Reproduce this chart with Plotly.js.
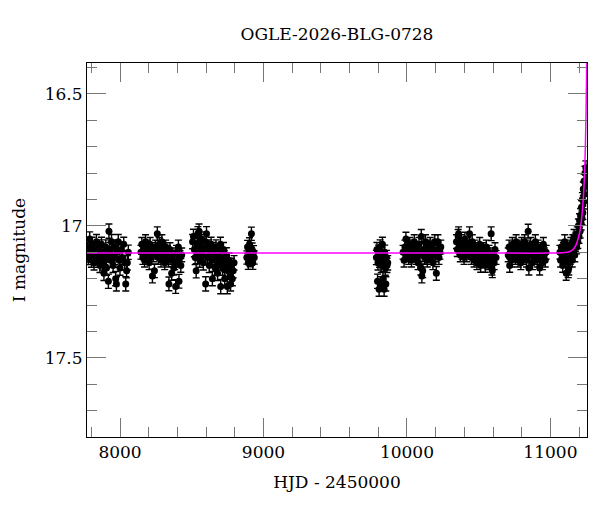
<!DOCTYPE html>
<html>
<head>
<meta charset="utf-8">
<script src="https://cdn.plot.ly/plotly-3.0.1.min.js"></script>
<style>html,body{margin:0;padding:0;background:#fff;}#chart{width:600px;height:512px;}</style>
</head>
<body>
<div id="chart"></div>
<script>
// ---- Observing seasons: HJD - 2450000 and I magnitude ----
const t1 = [7774,7779,7785,7789,7794,7801,7806,7812,7819,7823,7830,7836,7841,7849,7853,7860,7866,7871,7879,7884,7888,7895,7901,7906,7912,7919,7923,7929,7934,7941,7946,7952,7958,7963,7970,7975,7981,7988,7994,8000,8009,8017,8026,8033,8040,8046,8051,8058];
const m1 = [17.09,17.12,17.08,17.05,17.11,17.13,17.07,17.10,17.14,17.09,17.12,17.06,17.10,17.13,17.08,17.15,17.11,17.07,17.14,17.10,17.18,17.12,17.08,17.16,17.11,17.21,17.02,17.09,17.13,17.06,17.11,17.15,17.08,17.12,17.20,17.22,17.10,17.06,17.13,17.16,17.09,17.12,17.07,17.14,17.22,17.17,17.14,17.10];

const t2 = [8146,8152,8159,8165,8171,8178,8184,8190,8197,8203,8210,8216,8222,8226,8233,8240,8247,8253,8260,8266,8273,8279,8286,8292,8299,8305,8312,8318,8325,8331,8337,8341,8348,8354,8360,8367,8375,8381,8388,8394,8401,8407,8411,8418,8424,8430];
const m2 = [17.10,17.07,17.12,17.09,17.13,17.06,17.11,17.08,17.10,17.14,17.07,17.12,17.09,17.19,17.11,17.17,17.08,17.10,17.03,17.12,17.07,17.10,17.13,17.06,17.11,17.09,17.14,17.08,17.12,17.10,17.13,17.22,17.09,17.12,17.18,17.11,17.16,17.14,17.23,17.10,17.13,17.08,17.21,17.12,17.15,17.11];

const t3 = [8506,8512,8518,8524,8531,8537,8543,8549,8551,8556,8562,8568,8575,8581,8587,8593,8597,8603,8609,8616,8622,8628,8635,8641,8644,8650,8657,8663,8669,8676,8680,8687,8693,8700,8702,8708,8715,8721,8727,8730,8737,8742,8748,8754,8760,8766,8771,8777,8783,8789,8795];
const m3 = [17.06,17.04,17.09,17.12,17.17,17.07,17.03,17.10,17.02,17.13,17.08,17.05,17.11,17.14,17.09,17.06,17.22,17.03,17.12,17.08,17.15,17.10,17.07,17.13,17.20,17.09,17.12,17.16,17.08,17.11,17.18,17.14,17.10,17.07,17.23,17.13,17.16,17.09,17.12,17.20,17.15,17.11,17.23,17.17,17.13,17.19,17.22,17.15,17.20,17.17,17.14];

const t4 = [8884,8889,8894,8899,8903,8908,8912,8916,8921,8926,8931,8936];
const m4 = [17.12,17.08,17.14,17.10,17.07,17.13,17.11,17.03,17.09,17.14,17.10,17.12];

const t5 = [9787,9791,9795,9798,9802,9806,9809,9813,9817,9821,9825,9829,9833,9837,9841,9845,9849,9853,9857,9861,9866];
const m5 = [17.12,17.09,17.21,17.14,17.10,17.24,17.13,17.08,17.22,17.15,17.11,17.07,17.20,17.13,17.24,17.10,17.16,17.22,17.12,17.15,17.14];

const t6 = [9973,9980,9986,9993,9999,10006,10012,10019,10025,10032,10038,10045,10051,10058,10064,10071,10077,10084,10090,10097,10100,10104,10110,10116,10123,10129,10136,10142,10149,10155,10162,10168,10175,10181,10188,10194,10201,10205,10211,10216,10223,10230,10236];
const m6 = [17.10,17.13,17.08,17.05,17.11,17.09,17.12,17.07,17.10,17.13,17.08,17.11,17.06,17.09,17.12,17.10,17.14,17.07,17.11,17.16,17.04,17.19,17.17,17.09,17.12,17.06,17.10,17.13,17.08,17.11,17.07,17.12,17.09,17.14,17.10,17.06,17.11,17.18,17.09,17.06,17.12,17.10,17.08];

const t7 = [10345,10351,10357,10360,10366,10372,10379,10385,10392,10398,10404,10411,10417,10424,10430,10436,10442,10449,10455,10462,10468,10475,10481,10488,10494,10501,10507,10514,10520,10527,10533,10540,10546,10553,10559,10566,10572,10579,10587,10592,10595,10601,10608,10614,10621];
const m7 = [17.06,17.09,17.04,17.03,17.08,17.11,17.06,17.10,17.07,17.12,17.05,17.09,17.11,17.07,17.10,17.03,17.08,17.12,17.06,17.10,17.13,17.08,17.11,17.14,17.09,17.12,17.07,17.15,17.10,17.13,17.09,17.12,17.15,17.08,17.11,17.14,17.10,17.13,17.03,17.16,17.17,17.11,17.14,17.09,17.12];

const t8 = [10706,10712,10716,10722,10729,10735,10742,10748,10755,10761,10768,10774,10781,10787,10794,10800,10807,10813,10820,10826,10833,10839,10845,10850,10856,10862,10869,10875,10882,10888,10895,10901,10908,10914,10920,10925,10931,10938,10944,10951,10957,10964,10970];
const m8 = [17.11,17.08,17.15,17.10,17.13,17.07,17.11,17.09,17.12,17.06,17.10,17.13,17.08,17.11,17.14,17.07,17.10,17.12,17.06,17.09,17.13,17.08,17.02,17.16,17.11,17.07,17.10,17.14,17.09,17.12,17.06,17.11,17.13,17.08,17.10,17.16,17.12,17.09,17.14,17.07,17.11,17.13,17.10];

const t9 = [11066,11071,11076,11081,11086,11091,11096,11100,11105,11110,11114,11119,11124,11128,11133,11138,11142,11147,11152,11156,11161,11165,11170,11174,11178,11183,11187,11191,11195,11199,11203,11207,11210,11214,11217,11220,11223,11226,11229,11232,11235,11238,11241,11244,11247,11250];
const m9 = [17.10,17.13,17.08,17.11,17.15,17.09,17.12,17.06,17.10,17.18,17.13,17.08,17.17,17.16,17.09,17.12,17.07,17.10,17.13,17.06,17.09,17.04,17.11,17.07,17.05,17.08,17.03,17.06,17.00,17.04,16.98,17.02,16.96,16.99,16.93,16.97,16.90,16.95,16.86,16.91,16.83,16.88,16.80,16.85,16.78,16.83];

// typical photometric error of each season (mag)
const seasonErr = [0.027, 0.026, 0.027, 0.025, 0.027, 0.026, 0.026, 0.026, 0.026];

// microlensing model curve
const modelT = [7770, 9000, 10500, 11000, 11100, 11130, 11150, 11165, 11180, 11192, 11202, 11210, 11218, 11224, 11230, 11235, 11240, 11244, 11248, 11251, 11254, 11257];
const modelM = [17.103, 17.103, 17.103, 17.103, 17.101, 17.098, 17.093, 17.085, 17.070, 17.050, 17.030, 17.005, 16.970, 16.935, 16.890, 16.840, 16.770, 16.690, 16.580, 16.470, 16.330, 16.200];

const titleText = 'OGLE-2026-BLG-0728';
const xTitle = 'HJD - 2450000';
const yTitle = 'I magnitude';

// ---- build traces ----
const tSeasons = [t1, t2, t3, t4, t5, t6, t7, t8, t9];
const mSeasons = [m1, m2, m3, m4, m5, m6, m7, m8, m9];
let X = [], Y = [], E = [];
tSeasons.forEach((ts, i) => {
  X = X.concat(ts);
  Y = Y.concat(mSeasons[i]);
  E = E.concat(ts.map(() => seasonErr[i]));
});

const FONT = 'DejaVu Serif, Liberation Serif, serif';

const dataTrace = {
  type: 'scatter', mode: 'markers', x: X, y: Y,
  marker: {color: '#000', size: 7},
  error_y: {type: 'data', array: E, visible: true, color: '#000', thickness: 1.4, width: 3.5},
  hoverinfo: 'skip', showlegend: false
};
const modelTrace = {
  type: 'scatter', mode: 'lines', x: modelT, y: modelM,
  line: {color: '#ff00ff', width: 1.5, shape: 'spline'},
  hoverinfo: 'skip', showlegend: false
};

const axisCommon = {
  ticks: 'inside', tickcolor: '#777', tickwidth: 1, ticklen: 19,
  showline: true, linecolor: '#000', linewidth: 1, mirror: 'allticks',
  showgrid: false, zeroline: false,
  tickfont: {family: FONT, size: 17, color: '#000'}
};

const layout = {
  width: 600, height: 512,
  margin: {l: 87, r: 13, t: 63, b: 75},
  paper_bgcolor: '#fff', plot_bgcolor: '#fff',
  title: {text: titleText, font: {family: FONT, size: 17, color: '#000'},
          x: 0.5616, xanchor: 'center', y: 1 - 34/512, yanchor: 'middle', yref: 'container'},
  xaxis: Object.assign({}, axisCommon, {
    range: [7770, 11255], tick0: 0, dtick: 1000, tickformat: 'd',
    minor: {ticks: 'inside', ticklen: 10, tickcolor: '#777', dtick: 200, tick0: 0, showgrid: false},
    title: {text: xTitle, font: {family: FONT, size: 17, color: '#000'}, standoff: 14}
  }),
  yaxis: Object.assign({}, axisCommon, {
    range: [17.80, 16.383], tick0: 0, dtick: 0.5,
    minor: {ticks: 'inside', ticklen: 10, tickcolor: '#777', dtick: 0.1, tick0: 0, showgrid: false},
    title: {text: yTitle, font: {family: FONT, size: 17, color: '#000'}, standoff: 14}
  })
};

Plotly.newPlot('chart', [dataTrace, modelTrace], layout, {staticPlot: true, displayModeBar: false});
</script>
</body>
</html>
